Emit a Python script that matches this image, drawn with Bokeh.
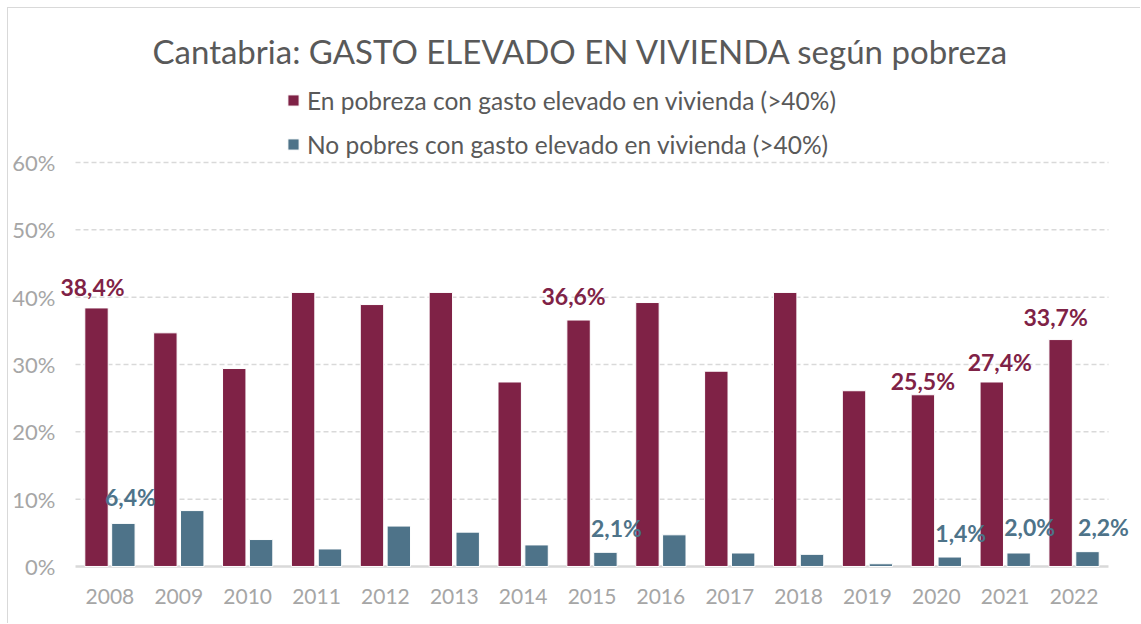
from bokeh.plotting import figure
from bokeh.models import ColumnDataSource, Range1d, Legend, LegendItem, FixedTicker, PrintfTickFormatter
from bokeh.transform import dodge
from bokeh.core.properties import value
from bokeh.embed import file_html
from bokeh.resources import INLINE

# ---- data ----
years = [str(y) for y in range(2008, 2023)]
pobres = [38.4, 34.7, 29.4, 40.7, 38.9, 40.7, 27.4, 36.6, 39.2, 29.0, 40.7, 26.1, 25.5, 27.4, 33.7]
no_pobres = [6.4, 8.3, 4.0, 2.6, 6.0, 5.1, 3.2, 2.1, 4.7, 2.0, 1.8, 0.4, 1.4, 2.0, 2.2]
labeled_years = ["2008", "2015", "2020", "2021", "2022"]
series_names = ["En pobreza con gasto elevado en vivienda (>40%)",
                "No pobres con gasto elevado en vivienda (>40%)"]
title_text = "Cantabria: GASTO ELEVADO EN VIVIENDA según pobreza"
y_ticks = [0, 10, 20, 30, 40, 50, 60]

# ---- styles ----
RED = "#7f2246"
BLUE = "#4e7389"
GRAY_TXT = "#a6a6a6"
GRID = "#d9d9d9"
FONT = "Lato"
BAR_W = 0.34
OFF = 0.195

def fmt(v):
    return f"{v:.1f}".replace(".", ",") + "%"

n = len(years)
xi = list(range(n))
src = ColumnDataSource(dict(xi=xi, year=years, pobres=pobres, no_pobres=no_pobres))

idx = [years.index(y) for y in labeled_years]
lab_red = ColumnDataSource(dict(xi=idx, v=[pobres[i] for i in idx],
                                t=[fmt(pobres[i]) for i in idx],
                                dx=[-4, -5, 0, 8, -5], dy=[-21, -24, -14, -20, -23]))
lab_blue = ColumnDataSource(dict(xi=idx, v=[no_pobres[i] for i in idx],
                                 t=[fmt(no_pobres[i]) for i in idx],
                                 dx=[7, 11, 11, 11, 16], dy=[-26, -24, -24, -26, -25]))

p = figure(x_range=Range1d(-0.276, n + 0.3775), y_range=Range1d(-0.45, 72.92),
           width=1133, height=616, output_backend="svg", toolbar_location=None,
           min_border_left=48, min_border_right=7, min_border_top=67, min_border_bottom=55)
p.styles = {"margin-left": "7px", "margin-top": "7px",
            "border-left": "1px solid #d9d9d9", "border-top": "1px solid #d9d9d9"}
p.outline_line_color = None

# grid lines (only across the category span)
p.segment(x0=[0] * (len(y_ticks) - 1), x1=[n] * (len(y_ticks) - 1), y0=y_ticks[1:], y1=y_ticks[1:],
          line_color=GRID, line_width=1.5, line_dash="5 3")
p.segment(x0=[0], x1=[n], y0=[y_ticks[0]], y1=[y_ticks[0]], line_color=GRID, line_width=2.5)

r1 = p.vbar(x=dodge("xi", 0.5 - OFF), top="pobres", width=BAR_W, source=src,
            fill_color=RED, line_color="white", line_width=1)
r2 = p.vbar(x=dodge("xi", 0.5 + OFF), top="no_pobres", width=BAR_W, source=src,
            fill_color=BLUE, line_color="white", line_width=1)

p.text(x=dodge("xi", 0.5 - OFF), y="v", text="t", source=lab_red,
       x_offset="dx", y_offset="dy", text_align="center", text_baseline="middle",
       text_color=RED, text_font=value(FONT), text_font_style="bold", text_font_size="23px")
p.text(x=dodge("xi", 0.5 + OFF), y="v", text="t", source=lab_blue,
       x_offset="dx", y_offset="dy", text_align="center", text_baseline="middle",
       text_color=BLUE, text_font=value(FONT), text_font_style="bold", text_font_size="23px")

# title
p.title.text = title_text
p.title.align = "left"
p.title.offset = 96
p.title.standoff = 10
p.title.text_font = FONT
p.title.text_font_style = "normal"
p.title.text_font_size = "33px"
p.title.text_color = "#595959"

# axes
p.yaxis.ticker = FixedTicker(ticks=y_ticks)
p.yaxis.formatter = PrintfTickFormatter(format="%d%%")
p.yaxis.axis_line_color = None
p.yaxis.major_tick_line_color = None
p.yaxis.minor_tick_line_color = None
p.yaxis.major_tick_out = 0
p.yaxis.major_tick_in = 0
p.yaxis.minor_tick_out = 0
p.yaxis.minor_tick_in = 0
p.yaxis.major_label_text_color = GRAY_TXT
p.yaxis.major_label_text_font = FONT
p.yaxis.major_label_text_font_size = "22px"
p.yaxis.major_label_standoff = 1

p.xaxis.ticker = FixedTicker(ticks=[i + 0.5 for i in xi])
p.xaxis.major_label_overrides = {i + 0.5: y for i, y in zip(xi, years)}
p.xaxis.axis_line_color = None
p.xaxis.major_tick_line_color = None
p.xaxis.minor_tick_line_color = None
p.xaxis.major_tick_out = 0
p.xaxis.major_tick_in = 0
p.xaxis.minor_tick_out = 0
p.xaxis.minor_tick_in = 0
p.xaxis.major_label_text_color = GRAY_TXT
p.xaxis.major_label_text_font = FONT
p.xaxis.major_label_text_font_size = "21px"
p.xaxis.major_label_standoff = 19

p.xgrid.grid_line_color = None
p.ygrid.grid_line_color = None

legend = Legend(items=[LegendItem(label=series_names[0], renderers=[r1]),
                       LegendItem(label=series_names[1], renderers=[r2])],
                location=(230, 410), orientation="vertical",
                padding=0, margin=0, spacing=14, label_height=30,
                glyph_width=14, glyph_height=14, label_standoff=7,
                label_text_font=FONT, label_text_font_size="24.5px",
                label_text_color="#595959", label_text_baseline="middle",
                background_fill_alpha=0, border_line_color=None)
p.add_layout(legend, "center")

open("out.html", "w").write(file_html(p, INLINE))
